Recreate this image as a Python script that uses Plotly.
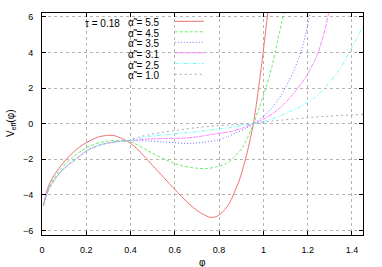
import plotly.graph_objects as go

# ---------------- data ----------------
alpha_labels = ["5.5", "4.5", "3.5", "3.1", "2.5", "1.0"]
tau_label = "0.18"

early_phi = [0.006, 0.02, 0.036, 0.054, 0.081, 0.11, 0.141, 0.18, 0.216, 0.26, 0.292, 0.34]
early_v = [-4.6, -4.0, -3.55, -3.2, -2.75, -2.4, -2.1, -1.72, -1.42, -1.2, -1.1, -1.0]

phi_a55 = [0.006, 0.02, 0.036, 0.054, 0.081, 0.11, 0.141, 0.18, 0.216, 0.25, 0.29, 0.31,
           0.33, 0.355, 0.385, 0.42, 0.458, 0.5, 0.548, 0.6, 0.623, 0.66, 0.70, 0.73, 0.76,
           0.79, 0.82, 0.845, 0.864, 0.894, 0.925, 0.955, 0.975, 0.995, 1.015, 1.03]
v_a55 = [-4.6, -3.85, -3.3, -2.9, -2.43, -2.0, -1.6, -1.22, -0.96, -0.76, -0.66, -0.65,
         -0.68, -0.8, -0.98, -1.3, -1.78, -2.35, -3.0, -3.68, -4.0, -4.45, -4.87, -5.1, -5.26,
         -5.2, -4.9, -4.5, -4.0, -3.08, -1.7, 0.0, 1.7, 3.6, 5.7, 7.3]

phi_a45 = [0.006, 0.02, 0.036, 0.054, 0.081, 0.11, 0.141, 0.18, 0.216, 0.26, 0.3, 0.34, 0.385,
           0.42, 0.474, 0.548, 0.623, 0.68, 0.743, 0.79, 0.833, 0.87, 0.908, 0.955, 0.982,
           1.013, 1.042, 1.065, 1.092, 1.11]
v_a45 = [-4.6, -3.95, -3.45, -3.05, -2.6, -2.2, -1.86, -1.5, -1.26, -1.06, -0.97, -0.94, -0.97,
         -1.12, -1.49, -1.96, -2.33, -2.47, -2.52, -2.42, -2.24, -1.85, -1.30, 0.0, 0.94,
         2.07, 3.38, 4.69, 6.22, 7.4]

phi_a35 = early_phi + [0.385, 0.44, 0.489, 0.548, 0.6, 0.64, 0.68, 0.73, 0.788, 0.84, 0.878,
                       0.92, 0.955, 1.0, 1.042, 1.08, 1.117, 1.162, 1.192, 1.211, 1.23]
v_a35 = early_v + [-0.96, -0.96, -0.97, -1.02, -1.07, -1.1, -1.1, -1.04, -0.93, -0.72, -0.5,
                   -0.27, 0.0, 0.42, 0.94, 1.6, 2.44, 3.75, 5.07, 6.22, 7.5]

phi_a31 = early_phi + [0.385, 0.44, 0.489, 0.548, 0.6, 0.64, 0.698, 0.75, 0.788, 0.848, 0.9,
                       0.955, 1.0, 1.042, 1.08, 1.117, 1.155, 1.192, 1.241, 1.271, 1.295, 1.31]
v_a31 = early_v + [-0.96, -0.9, -0.85, -0.83, -0.82, -0.81, -0.74, -0.64, -0.56, -0.45, -0.27,
                   0.0, 0.25, 0.57, 0.95, 1.42, 2.0, 2.63, 3.8, 4.95, 6.22, 7.2]

phi_a25 = early_phi + [0.385, 0.44, 0.489, 0.548, 0.64, 0.698, 0.788, 0.848, 0.9, 0.955, 1.0,
                       1.042, 1.08, 1.117, 1.155, 1.192, 1.23, 1.267, 1.30, 1.342, 1.37, 1.401, 1.45]
v_a25 = early_v + [-0.96, -0.82, -0.70, -0.64, -0.52, -0.46, -0.31, -0.22, -0.11, 0.0, 0.12,
                   0.29, 0.46, 0.66, 0.88, 1.13, 1.45, 1.88, 2.35, 3.0, 3.6, 4.31, 5.44]

phi_a10 = early_phi + [0.385, 0.44, 0.489, 0.548, 0.64, 0.7, 0.79, 0.85, 0.955, 1.042, 1.192,
                       1.3, 1.45]
v_a10 = early_v + [-0.96, -0.74, -0.6, -0.47, -0.31, -0.22, -0.11, -0.07, 0.02, 0.15, 0.33,
                   0.43, 0.53]

x_ticks = [0, 0.2, 0.4, 0.6, 0.8, 1.0, 1.2, 1.4]
x_tick_text = ["0", "0.2", "0.4", "0.6", "0.8", "1", "1.2", "1.4"]
y_ticks = [-6, -4, -2, 0, 2, 4, 6]

series_phi = [phi_a55, phi_a45, phi_a35, phi_a31, phi_a25, phi_a10]
series_v = [v_a55, v_a45, v_a35, v_a31, v_a25, v_a10]

# ---------------- styles ----------------
colors = ["#f07070", "#66ee66", "#7070ff", "#ff88ff", "#66ffff", "#a8a8a8"]
dashes = ["solid", "3px,2px", "1px,2px", "5px,1px", "4px,2px,1px,2px", "2px,3px"]
FONT = "Liberation Sans, Arial, sans-serif"

fig = go.Figure()
for ph, vv, c, d, a in zip(series_phi, series_v, colors, dashes, alpha_labels):
    fig.add_trace(go.Scatter(
        x=ph, y=vv, mode="lines", name=a,
        line=dict(color=c, width=1, dash=d, shape="spline", smoothing=0.8),
        showlegend=False, hoverinfo="skip"))

axis_common = dict(
    showline=True, linecolor="black", linewidth=1, mirror="allticks",
    ticks="inside", ticklen=4, tickcolor="black", tickwidth=1,
    showgrid=True, gridcolor="#b4b4b4", griddash="dot", gridwidth=1,
    zeroline=False, tickfont=dict(family=FONT, size=9, color="black"),
    ticklabelstandoff=6, automargin=False,
)

fig.update_xaxes(range=[0, 1.45], tickvals=x_ticks, ticktext=x_tick_text, **axis_common)
fig.update_yaxes(range=[-6.25, 6.22], tickvals=y_ticks, **axis_common)

L, R, T, B = 42, 19, 13, 32
W, H = 382, 267
pw, ph_ = W - L - R, H - T - B


def px(xp):
    return (xp - L) / pw


def py(yp):
    return (H - B - yp) / ph_


shapes = [dict(type="rect", xref="paper", yref="paper",
               x0=px(47), x1=px(208), y0=py(83), y1=py(19),
               fillcolor="white", line=dict(width=0), layer="between")]

annotations = [dict(text="\u03c4 = " + tau_label, xref="paper", yref="paper",
                    x=px(121.5), y=py(23.5), xanchor="right", yanchor="middle",
                    showarrow=False, font=dict(family=FONT, size=10, color="black"))]

row_y = [21.3, 31.8, 42.3, 52.8, 63.5, 74.3]
for a, c, d, ry in zip(alpha_labels, colors, dashes, row_y):
    shapes.append(dict(type="line", xref="paper", yref="paper",
                       x0=px(174.7), x1=px(203.7), y0=py(ry), y1=py(ry),
                       line=dict(color=c, width=1, dash=d), layer="above"))
    annotations.append(dict(text="\u03b1\u0303 = " + a, xref="paper", yref="paper",
                            x=px(161.5), y=py(ry + 1.5), xanchor="right", yanchor="middle",
                            showarrow=False, font=dict(family=FONT, size=10, color="black")))

annotations.append(dict(text="V<sub>eff</sub>(\u03c6)", xref="paper", yref="paper",
                        x=px(11), y=0.5, xanchor="center", yanchor="middle", textangle=-90,
                        showarrow=False, font=dict(family=FONT, size=10, color="black")))
annotations.append(dict(text="\u03c6", xref="paper", yref="paper",
                        x=px(202), y=py(262), xanchor="center", yanchor="middle",
                        showarrow=False, font=dict(family=FONT, size=10, color="black")))

fig.update_layout(
    width=W, height=H, margin=dict(l=L, r=R, t=T, b=B, pad=0),
    paper_bgcolor="white", plot_bgcolor="white",
    shapes=shapes, annotations=annotations, showlegend=False,
)

fig.write_html("out.html", config={"displayModeBar": False},
               post_script="document.body.style.margin='0';document.body.style.overflow='hidden';")
